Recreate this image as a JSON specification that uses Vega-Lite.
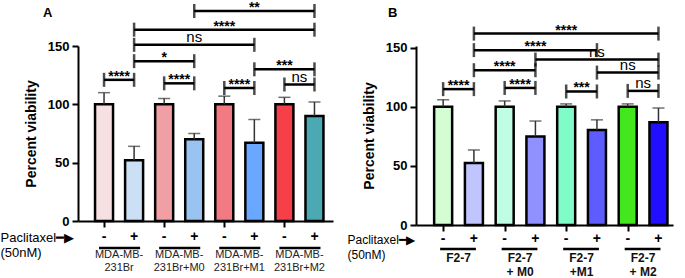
{
  "$schema": "https://vega.github.io/schema/vega-lite/v6.json",
  "padding": {"left": 0, "top": 1, "right": 2, "bottom": 0},
  "spacing": 14,
  "resolve": {"scale": {"color": "independent"}},
  "config": {
    "view": {"stroke": null},
    "font": "Liberation Sans",
    "axis": {"grid": false, "domainColor": "black", "domainWidth": 2, "tickColor": "black", "tickWidth": 2, "tickSize": 6,
      "labelFont": "Liberation Sans", "labelFontWeight": "bold", "labelColor": "black", "labelOverlap": false, "labelFlush": false,
      "titleFont": "Liberation Sans", "titleColor": "black"},
    "axisX": {"labelFontSize": 14, "labelPadding": 2, "titleFontWeight": "normal"},
    "axisY": {"labelFontSize": 13, "labelPadding": 3, "titleFontSize": 14, "titleFontWeight": "bold", "titlePadding": 9}
  },
  "datasets": {
    "barsA": [
      {"pos": 1, "cond": "A1", "treat": "-", "grp": "g1", "glabel": "MDA-MB-\n231Br", "v": 100, "hi": 110},
      {"pos": 2, "cond": "A2", "treat": "+", "grp": "g1", "glabel": "MDA-MB-\n231Br", "v": 52, "hi": 64},
      {"pos": 3, "cond": "A3", "treat": "-", "grp": "g2", "glabel": "MDA-MB-\n231Br+M0", "v": 100, "hi": 105},
      {"pos": 4, "cond": "A4", "treat": "+", "grp": "g2", "glabel": "MDA-MB-\n231Br+M0", "v": 70, "hi": 75},
      {"pos": 5, "cond": "A5", "treat": "-", "grp": "g3", "glabel": "MDA-MB-\n231Br+M1", "v": 100, "hi": 107},
      {"pos": 6, "cond": "A6", "treat": "+", "grp": "g3", "glabel": "MDA-MB-\n231Br+M1", "v": 67, "hi": 87},
      {"pos": 7, "cond": "A7", "treat": "-", "grp": "g4", "glabel": "MDA-MB-\n231Br+M2", "v": 100, "hi": 106},
      {"pos": 8, "cond": "A8", "treat": "+", "grp": "g4", "glabel": "MDA-MB-\n231Br+M2", "v": 90, "hi": 102}
    ],
    "brA": [
      {"id": "a1", "pos": 1, "h": 121, "label": "****"}, {"id": "a1", "pos": 2, "h": 121, "label": "****"},
      {"id": "a2", "pos": 3, "h": 118, "label": "****"}, {"id": "a2", "pos": 4, "h": 118, "label": "****"},
      {"id": "a3", "pos": 5, "h": 114, "label": "****"}, {"id": "a3", "pos": 6, "h": 114, "label": "****"},
      {"id": "a4", "pos": 7, "h": 117, "label": "ns"}, {"id": "a4", "pos": 8, "h": 117, "label": "ns"},
      {"id": "a5", "pos": 2, "h": 137, "label": "*"}, {"id": "a5", "pos": 4, "h": 137, "label": "*"},
      {"id": "a6", "pos": 6, "h": 130, "label": "***"}, {"id": "a6", "pos": 8, "h": 130, "label": "***"},
      {"id": "a7", "pos": 2, "h": 151, "label": "ns"}, {"id": "a7", "pos": 6, "h": 151, "label": "ns"},
      {"id": "a8", "pos": 2, "h": 164, "label": "****"}, {"id": "a8", "pos": 8, "h": 164, "label": "****"},
      {"id": "a9", "pos": 4, "h": 180, "label": "**"}, {"id": "a9", "pos": 8, "h": 180, "label": "**"}
    ],
    "barsB": [
      {"pos": 1, "cond": "B1", "treat": "-", "grp": "g1", "glabel": "F2-7", "v": 100, "hi": 106},
      {"pos": 2, "cond": "B2", "treat": "+", "grp": "g1", "glabel": "F2-7", "v": 52.5, "hi": 63.5},
      {"pos": 3, "cond": "B3", "treat": "-", "grp": "g2", "glabel": "F2-7\n+ M0", "v": 100, "hi": 105},
      {"pos": 4, "cond": "B4", "treat": "+", "grp": "g2", "glabel": "F2-7\n+ M0", "v": 75, "hi": 88},
      {"pos": 5, "cond": "B5", "treat": "-", "grp": "g3", "glabel": "F2-7\n+M1", "v": 100, "hi": 102.5},
      {"pos": 6, "cond": "B6", "treat": "+", "grp": "g3", "glabel": "F2-7\n+M1", "v": 80.5, "hi": 89},
      {"pos": 7, "cond": "B7", "treat": "-", "grp": "g4", "glabel": "F2-7\n+ M2", "v": 100, "hi": 102.5},
      {"pos": 8, "cond": "B8", "treat": "+", "grp": "g4", "glabel": "F2-7\n+ M2", "v": 87, "hi": 99}
    ],
    "brB": [
      {"id": "b1", "pos": 1, "h": 115, "label": "****"}, {"id": "b1", "pos": 2, "h": 115, "label": "****"},
      {"id": "b2", "pos": 3, "h": 116, "label": "****"}, {"id": "b2", "pos": 4, "h": 116, "label": "****"},
      {"id": "b3", "pos": 5, "h": 113, "label": "***"}, {"id": "b3", "pos": 6, "h": 113, "label": "***"},
      {"id": "b4", "pos": 7, "h": 113.5, "label": "ns"}, {"id": "b4", "pos": 8, "h": 113.5, "label": "ns"},
      {"id": "b5", "pos": 2, "h": 131, "label": "****"}, {"id": "b5", "pos": 4, "h": 131, "label": "****"},
      {"id": "b6", "pos": 6, "h": 129, "label": "ns"}, {"id": "b6", "pos": 8, "h": 129, "label": "ns"},
      {"id": "b7", "pos": 4, "h": 140, "label": "ns"}, {"id": "b7", "pos": 8, "h": 140, "label": "ns"},
      {"id": "b8", "pos": 2, "h": 148, "label": "****"}, {"id": "b8", "pos": 6, "h": 148, "label": "****"},
      {"id": "b9", "pos": 2, "h": 162, "label": "****"}, {"id": "b9", "pos": 8, "h": 162, "label": "****"}
    ]
  },
  "hconcat": [
    {
      "width": 255,
      "height": 175,
      "title": {"text": "A", "anchor": "start", "frame": "group", "dx": -35, "dy": 19, "offset": 0, "fontSize": 13, "fontWeight": "bold", "font": "Liberation Sans", "color": "black"},
      "layer": [
        {
          "data": {"name": "barsA"},
          "mark": {"type": "bar", "width": 18, "stroke": "black", "strokeWidth": 2.5},
          "encoding": {
            "x": {"field": "pos", "type": "quantitative", "scale": {"domain": [0.3, 8.45], "nice": false, "zero": false},
              "axis": {"values": [1, 2, 3, 4, 5, 6, 7, 8], "labels": false,
                "title": ["Paclitaxel━▶", "(50nM)"], "titleFontSize": 13, "titleFontWeight": "normal",
                "titleAnchor": "start", "titleAlign": "left", "titleBaseline": "top", "titleX": -78, "titleY": 10, "titleLineHeight": 15}},
            "y": {"field": "v", "type": "quantitative", "scale": {"domain": [0, 150], "nice": false},
              "axis": {"values": [0, 50, 100, 150], "title": "Percent viability"}},
            "color": {"field": "cond", "type": "nominal", "legend": null,
              "scale": {"domain": ["A1", "A2", "A3", "A4", "A5", "A6", "A7", "A8"],
                "range": ["#f7e0e2", "#cce0f5", "#f0a0a5", "#99c4f2", "#f27a82", "#6aa8ff", "#f5404a", "#4aa9b2"]}}
          }
        },
        {
          "data": {"name": "barsA"},
          "mark": {"type": "rule", "color": "#333", "strokeWidth": 1.5},
          "encoding": {
            "x": {"field": "pos", "type": "quantitative"},
            "y": {"field": "v", "type": "quantitative"},
            "y2": {"field": "hi"}
          }
        },
        {
          "data": {"name": "barsA"},
          "mark": {"type": "tick", "orient": "horizontal", "size": 12, "thickness": 1.5, "color": "#333"},
          "encoding": {
            "x": {"field": "pos", "type": "quantitative"},
            "y": {"field": "hi", "type": "quantitative"}
          }
        },
        {
          "data": {"name": "barsA"},
          "mark": {"type": "text", "baseline": "middle", "align": "center", "dy": 16, "fontSize": 14, "fontWeight": "bold", "font": "Liberation Sans", "color": "black"},
          "encoding": {
            "x": {"field": "pos", "type": "quantitative"},
            "y": {"datum": 0, "type": "quantitative"},
            "text": {"field": "treat"}
          }
        },
        {
          "data": {"name": "barsA"},
          "mark": {"type": "rule", "color": "black", "strokeWidth": 2.5, "yOffset": 27, "xOffset": -5, "x2Offset": 6},
          "encoding": {
            "x": {"aggregate": "min", "field": "pos", "type": "quantitative"},
            "x2": {"aggregate": "max", "field": "pos"},
            "y": {"datum": 0, "type": "quantitative"},
            "detail": {"field": "grp"}
          }
        },
        {
          "data": {"name": "barsA"},
          "mark": {"type": "text", "baseline": "top", "align": "center", "dy": 28, "lineBreak": "\n", "lineHeight": 13, "fontSize": 11, "font": "Liberation Sans", "color": "#222"},
          "encoding": {
            "x": {"aggregate": "mean", "field": "pos", "type": "quantitative"},
            "y": {"datum": 0, "type": "quantitative"},
            "text": {"field": "glabel"},
            "detail": {"field": "grp"}
          }
        },
        {
          "data": {"name": "brA"},
          "mark": {"type": "line", "color": "black", "strokeWidth": 2.5},
          "encoding": {
            "x": {"field": "pos", "type": "quantitative"},
            "y": {"field": "h", "type": "quantitative"},
            "detail": {"field": "id"}
          }
        },
        {
          "data": {"name": "brA"},
          "mark": {"type": "tick", "orient": "vertical", "size": 14, "thickness": 2.5, "color": "black"},
          "encoding": {
            "x": {"field": "pos", "type": "quantitative"},
            "y": {"field": "h", "type": "quantitative"}
          }
        },
        {
          "data": {"name": "brA"},
          "transform": [{"filter": "datum.label != 'ns'"}],
          "mark": {"type": "text", "baseline": "alphabetic", "dy": 1, "fontSize": 14, "fontWeight": "bold", "font": "Liberation Sans", "color": "black"},
          "encoding": {
            "x": {"aggregate": "mean", "field": "pos", "type": "quantitative"},
            "y": {"field": "h", "type": "quantitative"},
            "text": {"field": "label"},
            "detail": {"field": "id"}
          }
        },
        {
          "data": {"name": "brA"},
          "transform": [{"filter": "datum.label == 'ns'"}],
          "mark": {"type": "text", "baseline": "alphabetic", "dy": -3, "fontSize": 15, "font": "Liberation Sans", "color": "black"},
          "encoding": {
            "x": {"aggregate": "mean", "field": "pos", "type": "quantitative"},
            "y": {"field": "h", "type": "quantitative"},
            "text": {"field": "label"},
            "detail": {"field": "id"}
          }
        }
      ]
    },
    {
      "width": 257,
      "height": 179,
      "title": {"text": "B", "anchor": "start", "frame": "group", "dx": -28, "offset": 4, "fontSize": 13, "fontWeight": "bold", "font": "Liberation Sans", "color": "black"},
      "layer": [
        {
          "data": {"name": "barsB"},
          "mark": {"type": "bar", "width": 18, "stroke": "black", "strokeWidth": 2.5},
          "encoding": {
            "x": {"field": "pos", "type": "quantitative", "scale": {"domain": [0.28, 8.31], "nice": false, "zero": false},
              "axis": {"values": [1, 2, 3, 4, 5, 6, 7, 8], "labels": false,
                "title": ["Paclitaxel━▶", "(50nM)"], "titleFontSize": 12, "titleFontWeight": "normal",
                "titleAnchor": "start", "titleAlign": "left", "titleBaseline": "top", "titleX": -69, "titleY": 9, "titleLineHeight": 15}},
            "y": {"field": "v", "type": "quantitative", "scale": {"domain": [0, 151.5], "nice": false},
              "axis": {"values": [0, 50, 100, 150], "title": "Percent viability"}},
            "color": {"field": "cond", "type": "nominal", "legend": null,
              "scale": {"domain": ["B1", "B2", "B3", "B4", "B5", "B6", "B7", "B8"],
                "range": ["#d4fdd4", "#c0c4ff", "#c0fde5", "#9090ff", "#80fcc8", "#5c5cff", "#44e61e", "#2010ff"]}}
          }
        },
        {
          "data": {"name": "barsB"},
          "mark": {"type": "rule", "color": "#333", "strokeWidth": 1.5},
          "encoding": {
            "x": {"field": "pos", "type": "quantitative"},
            "y": {"field": "v", "type": "quantitative"},
            "y2": {"field": "hi"}
          }
        },
        {
          "data": {"name": "barsB"},
          "mark": {"type": "tick", "orient": "horizontal", "size": 12, "thickness": 1.5, "color": "#333"},
          "encoding": {
            "x": {"field": "pos", "type": "quantitative"},
            "y": {"field": "hi", "type": "quantitative"}
          }
        },
        {
          "data": {"name": "barsB"},
          "mark": {"type": "text", "baseline": "middle", "align": "center", "dy": 14, "fontSize": 14, "fontWeight": "bold", "font": "Liberation Sans", "color": "black"},
          "encoding": {
            "x": {"field": "pos", "type": "quantitative"},
            "y": {"datum": 0, "type": "quantitative"},
            "text": {"field": "treat"}
          }
        },
        {
          "data": {"name": "barsB"},
          "mark": {"type": "rule", "color": "black", "strokeWidth": 2.5, "yOffset": 24, "xOffset": -3, "x2Offset": 2},
          "encoding": {
            "x": {"aggregate": "min", "field": "pos", "type": "quantitative"},
            "x2": {"aggregate": "max", "field": "pos"},
            "y": {"datum": 0, "type": "quantitative"},
            "detail": {"field": "grp"}
          }
        },
        {
          "data": {"name": "barsB"},
          "mark": {"type": "text", "baseline": "top", "align": "center", "dy": 28, "lineBreak": "\n", "lineHeight": 14, "fontSize": 12, "fontWeight": "bold", "font": "Liberation Sans", "color": "#111"},
          "encoding": {
            "x": {"aggregate": "mean", "field": "pos", "type": "quantitative"},
            "y": {"datum": 0, "type": "quantitative"},
            "text": {"field": "glabel"},
            "detail": {"field": "grp"}
          }
        },
        {
          "data": {"name": "brB"},
          "mark": {"type": "line", "color": "black", "strokeWidth": 2.5},
          "encoding": {
            "x": {"field": "pos", "type": "quantitative"},
            "y": {"field": "h", "type": "quantitative"},
            "detail": {"field": "id"}
          }
        },
        {
          "data": {"name": "brB"},
          "mark": {"type": "tick", "orient": "vertical", "size": 14, "thickness": 2.5, "color": "black"},
          "encoding": {
            "x": {"field": "pos", "type": "quantitative"},
            "y": {"field": "h", "type": "quantitative"}
          }
        },
        {
          "data": {"name": "brB"},
          "transform": [{"filter": "datum.label != 'ns'"}],
          "mark": {"type": "text", "baseline": "alphabetic", "dy": 1, "fontSize": 14, "fontWeight": "bold", "font": "Liberation Sans", "color": "black"},
          "encoding": {
            "x": {"aggregate": "mean", "field": "pos", "type": "quantitative"},
            "y": {"field": "h", "type": "quantitative"},
            "text": {"field": "label"},
            "detail": {"field": "id"}
          }
        },
        {
          "data": {"name": "brB"},
          "transform": [{"filter": "datum.label == 'ns'"}],
          "mark": {"type": "text", "baseline": "alphabetic", "dy": -3, "fontSize": 15, "font": "Liberation Sans", "color": "black"},
          "encoding": {
            "x": {"aggregate": "mean", "field": "pos", "type": "quantitative"},
            "y": {"field": "h", "type": "quantitative"},
            "text": {"field": "label"},
            "detail": {"field": "id"}
          }
        }
      ]
    }
  ]
}
